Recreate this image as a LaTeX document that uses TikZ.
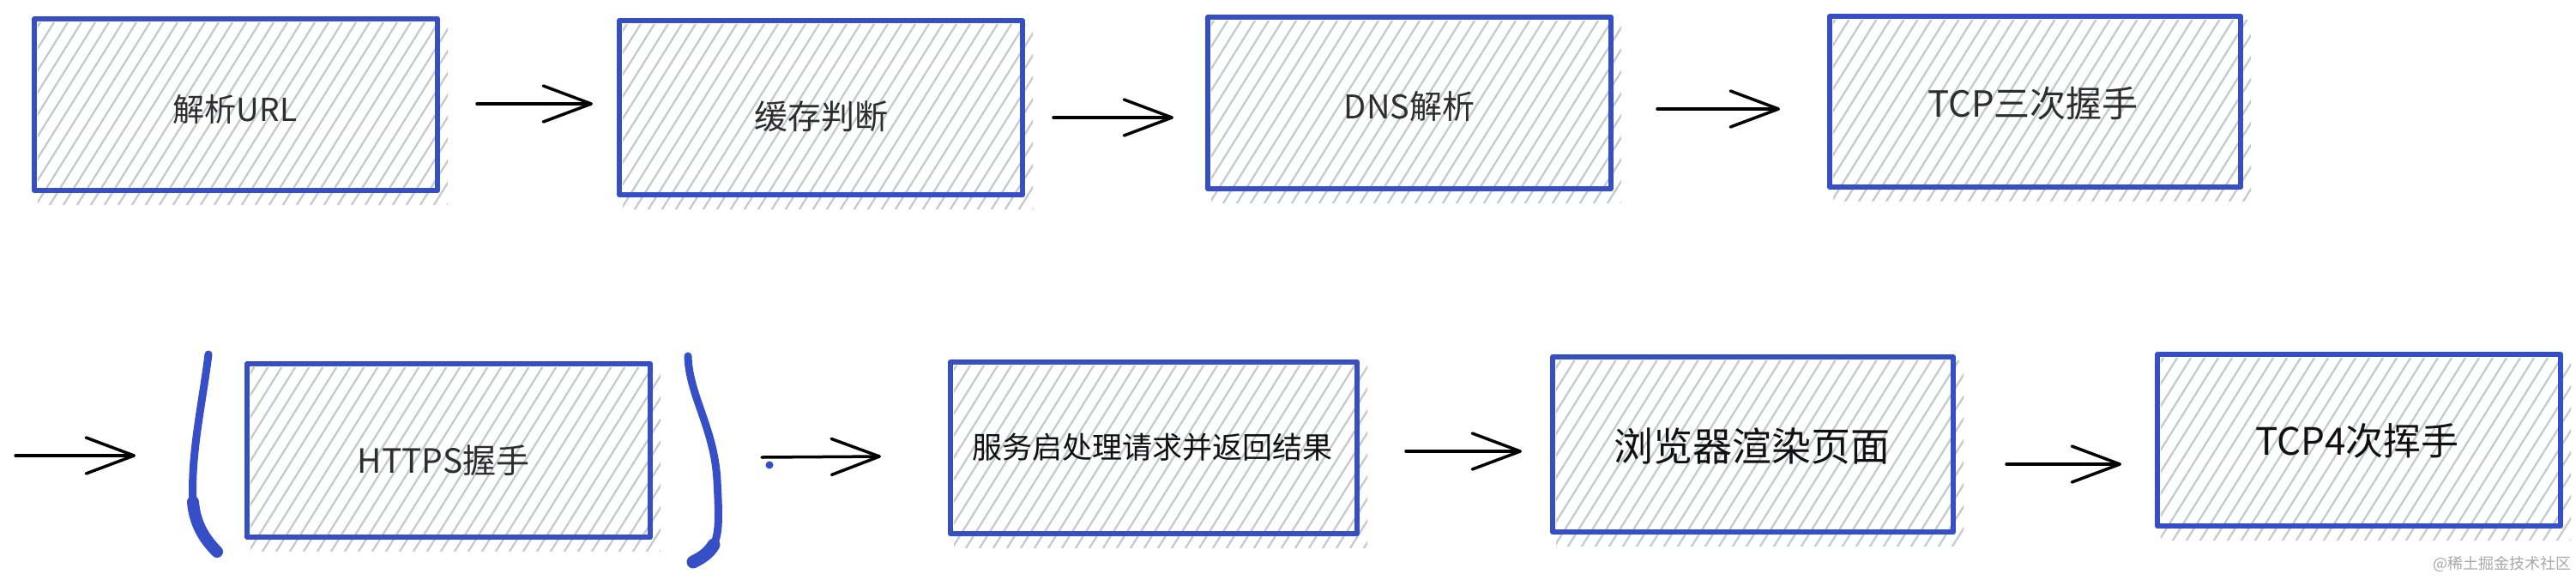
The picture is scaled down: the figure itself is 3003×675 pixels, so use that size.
\documentclass[tikz,border=0pt]{standalone}
\usepackage{fontspec}
\setmainfont{Noto Sans CJK SC}
\usetikzlibrary{arrows.meta,calc}
\definecolor{exblue}{HTML}{364FC7}
\definecolor{hatchgray}{HTML}{C6CACE}
\definecolor{inkdark}{HTML}{2E2E2E}
\definecolor{inkblack}{HTML}{111111}
\definecolor{wmgray}{HTML}{A8A8A8}
\tikzset{
  box/.style={draw=exblue, line width=6pt, line join=round, inner sep=0pt},
  hatchline/.style={draw=hatchgray, line width=2.3pt},
  lbl/.style={inner sep=0pt, text=inkdark},
  conn/.style={draw=black, line width=3.5pt, line cap=round, line join=round,
    -{Straight Barb[length=56pt,width=42pt,line cap=round,line join=round]}},
  paren/.style={draw=exblue, line cap=round, line join=round},
  wm/.style={inner sep=0pt, text=wmgray, font=\fontsize{18}{20}\selectfont},
}
\newcommand\hatchfill[4]{%
  \begin{scope}
    \clip (#1+4,#2+4) rectangle (#3+12,#4+16);
    \foreach \k in {0,...,44}{
      \draw[hatchline] ({#1-160+16*\k},{#4+20}) -- ++({(#4-#2+40)/1.6},{-(#4-#2+40)});
    }
  \end{scope}}
\newcommand\sketchbox[5]{% name x1 y1 x2 y2
  \hatchfill{#2}{#3}{#4}{#5}
  \node[box, minimum width={(#4-#2)*1pt}, minimum height={(#5-#3)*1pt}] (#1) at ({(#2+#4)/2},{(#3+#5)/2}) {};}
\begin{document}
\begin{tikzpicture}[x=1pt,y=-1pt]
  \useasboundingbox[fill=white] (0,0) rectangle (3003,675);

  % row 1
  \sketchbox{b1}{40}{22}{510}{222}
  \sketchbox{b2}{722}{24}{1192}{227}
  \sketchbox{b3}{1408}{20}{1878}{220}
  \sketchbox{b4}{2133}{19}{2612}{218}
  % row 2
  \sketchbox{b5}{288}{424}{758}{626}
  \sketchbox{b6}{1108}{422}{1582}{622}
  \sketchbox{b7}{1810}{416}{2277}{620}
  \sketchbox{b8}{2515}{413}{2985}{613}

  % labels
  \node[lbl, font=\fontsize{37}{40}\selectfont] (t1) at (274,127) {解析URL};
  \node[lbl, font=\fontsize{39}{42}\selectfont] (t2) at (957,136) {缓存判断};
  \node[lbl, font=\fontsize{38}{42}\selectfont] (t3) at (1643,124) {DNS解析};
  \node[lbl, font=\fontsize{42}{46}\selectfont] (t4) at (2370,121) {TCP三次握手};
  \node[lbl, font=\fontsize{39}{44}\selectfont] (t5) at (517,537) {HTTPS握手};
  \node[lbl, text=inkblack, font=\fontsize{35}{40}\selectfont] (t6) at (1343,521) {服务启处理请求并返回结果};
  \node[lbl, text=inkblack, font=\fontsize{46}{50}\selectfont] (t7) at (2042,520) {浏览器渲染页面};
  \node[lbl, text=inkblack, font=\fontsize{44}{48}\selectfont] (t8) at (2748,514) {TCP4次挥手};

  % connectors
  \coordinate (a1s) at (556,121);  \coordinate (a1e) at (691,121);
  \coordinate (a2s) at (1228,137); \coordinate (a2e) at (1368,137);
  \coordinate (a3s) at (1932,127); \coordinate (a3e) at (2075,127);
  \coordinate (a4s) at (18,531);   \coordinate (a4e) at (158,531);
  \coordinate (a5s) at (888,533);  \coordinate (a5e) at (1027,532);
  \coordinate (a6s) at (1639,526); \coordinate (a6e) at (1774,526);
  \coordinate (a7s) at (2339,541); \coordinate (a7e) at (2473,541);
  \draw[conn] (a1s) -- (a1e);
  \draw[conn] (a2s) -- (a2e);
  \draw[conn] (a3s) -- (a3e);
  \draw[conn] (a4s) -- (a4e);
  \draw[conn] (a5s) -- (a5e);
  \draw[conn] (a6s) -- (a6e);
  \draw[conn] (a7s) -- (a7e);

  % brackets around HTTPS
  \draw[paren, line width=9pt] (243,413) .. controls (236,470) and (222,530) .. (225,585);
  \draw[paren, line width=14pt] (225,585) .. controls (227,610) and (238,628) .. (253,643);
  \draw[paren, line width=9pt] (802,415) .. controls (803,460) and (833,500) .. (836,560) .. controls (838,600) and (839,620) .. (832,635);
  \draw[paren, line width=15pt] (832,635) .. controls (826,645) and (818,650) .. (808,655);
  \fill[exblue] (897,542) circle (4.5);

  % watermark
  \node[wm, anchor=east] (wm) at (2998,657) {@稀土掘金技术社区};
\end{tikzpicture}
\end{document}
